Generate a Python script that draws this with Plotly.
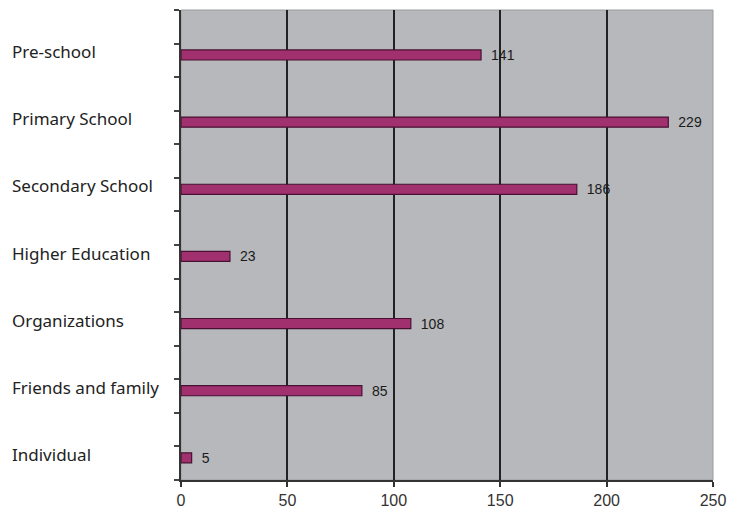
import plotly.graph_objects as go

categories = ["Pre-school", "Primary School", "Secondary School", "Higher Education",
              "Organizations", "Friends and family", "Individual"]
values = [141, 229, 186, 23, 108, 85, 5]
x_ticks = [0, 50, 100, 150, 200, 250]

pos = list(range(len(categories)))

fig = go.Figure()
fig.add_trace(go.Bar(
    x=values, y=pos, orientation="h",
    width=0.15, offset=0.095,
    marker=dict(color="#A1306F", line=dict(color="#4A1033", width=1.2)),
    text=["\u2002" + str(v) for v in values], textposition="outside", constraintext="none",
    textfont=dict(family="Liberation Sans, Arial", size=14, color="#1a1a1a"),
    cliponaxis=False, showlegend=False, hoverinfo="skip",
))

for i, c in enumerate(categories):
    fig.add_annotation(text=c, x=-0.322, xref="paper", y=i + 0.12, yref="y",
                       xanchor="left", yanchor="middle", showarrow=False,
                       font=dict(family="Noto Sans, Open Sans", size=17, color="#222"))

fig.update_layout(
    width=747, height=517,
    margin=dict(l=173, r=42, t=2, b=45),
    paper_bgcolor="white", plot_bgcolor="#B6B8BB",
    xaxis=dict(range=[0, 250], tickvals=x_ticks, showgrid=True, gridcolor="#222",
               gridwidth=2, zeroline=False, showline=True, linecolor="#333", linewidth=2,
               ticks="outside", ticklen=5, tickcolor="#333", tickwidth=2,
               tickfont=dict(family="Liberation Sans, Arial", size=16, color="#333"),
               mirror=False),
    yaxis=dict(range=[6.5, -0.5], tickvals=[k / 2 - 0.5 for k in range(15)],
               showticklabels=False, showgrid=False, zeroline=False,
               showline=True, linecolor="#333", linewidth=2,
               ticks="outside", ticklen=5, tickcolor="#444", tickwidth=2),
    shapes=[dict(type="rect", xref="paper", yref="paper", x0=0, x1=1, y0=0, y1=1,
                 line=dict(color="#9A9C9F", width=1), layer="below")],
)

fig.write_html("out.html")
